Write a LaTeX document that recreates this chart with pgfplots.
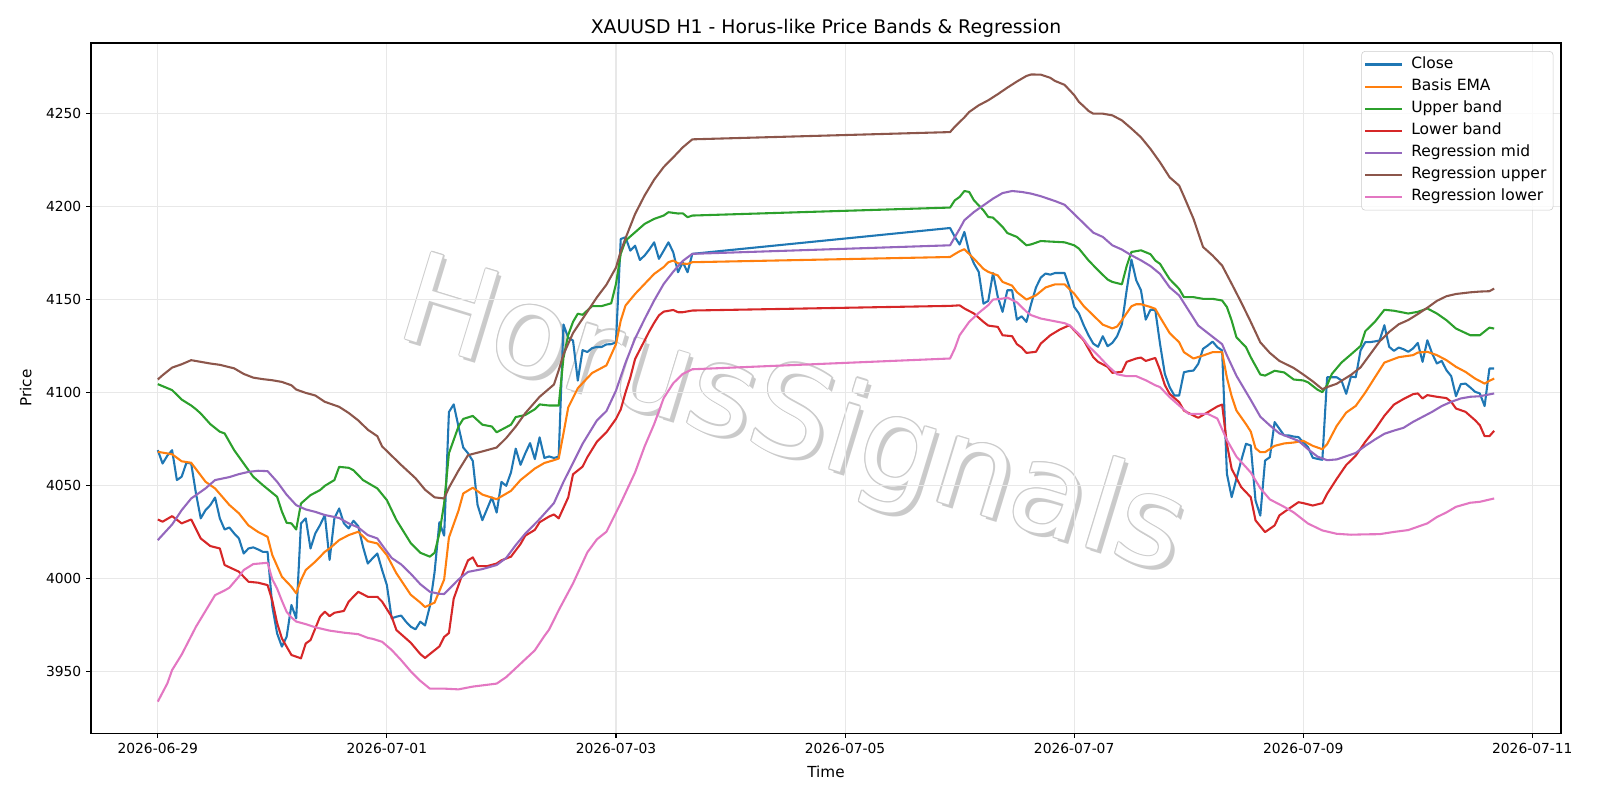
\documentclass[border=0pt]{standalone}
\usepackage{fontspec}
\setmainfont{DejaVu Sans}
\usepackage{pgfplots}
\pgfplotsset{compat=1.18}
\definecolor{c0}{HTML}{1F77B4}
\definecolor{c1}{HTML}{FF7F0E}
\definecolor{c2}{HTML}{2CA02C}
\definecolor{c3}{HTML}{D62728}
\definecolor{c4}{HTML}{9467BD}
\definecolor{c5}{HTML}{8C564B}
\definecolor{c6}{HTML}{E377C2}
\begin{document}
\begin{tikzpicture}
\useasboundingbox (-65.5bp,-48.2bp) rectangle (1086.5bp,527.8bp);
% watermark
\begin{scope}[shift={(505bp,224.5bp)}]
\tikzset{wm/.style={rotate=-17, font=\fontsize{90}{90}\selectfont, inner sep=0pt}}
\node[wm, text=gray!75, opacity=0.55] at (2.8bp,-2.8bp) {HorusSignals};
\foreach \dx/\dy in {0.9/0,-0.9/0,0/0.9,0/-0.9,0.65/0.65,-0.65/0.65,0.65/-0.65,-0.65/-0.65}
  {\node[wm, text=gray!40] at (\dx bp,\dy bp) {HorusSignals};}
\node[wm, text=white] at (0,0) {HorusSignals};
\end{scope}
\begin{axis}[
  at={(0,0)}, anchor=south west,
  scale only axis, width=1058.4bp, height=496.8bp,
  xmin=-14, xmax=294, ymin=3916.8, ymax=4288,
  xtick={0,48,96,144,192,240,288},
  xticklabels={2026-06-29,2026-07-01,2026-07-03,2026-07-05,2026-07-07,2026-07-09,2026-07-11},
  ytick={3950,4000,...,4250},
  yticklabel style={/pgf/number format/.cd, 1000 sep={}, fixed},
  /pgf/number format/assume math mode=true,
  ticklabel style={font=\fontsize{10}{12}\selectfont},
  tick align=outside, tick pos=left,
  major tick length=3.5bp,
  tick style={black, line width=0.8bp},
  axis line style={black, line width=0.8bp},
  grid=major, grid style={color=black!9, line width=0.8bp},
  title={XAUUSD H1 - Horus-like Price Bands \& Regression},
  every axis title/.style={at={(axis description cs:0.5,1.021)}, anchor=center, font=\fontsize{13.6}{16}\selectfont},
  xlabel={Time}, ylabel={Price},
  xlabel style={at={(axis description cs:0.5,-0.0557)}, anchor=center, font=\fontsize{11}{13}\selectfont},
  ylabel style={at={(axis description cs:-0.0444,0.5)}, anchor=center, rotate=0, font=\fontsize{11}{13}\selectfont},
  legend style={at={(0.9948,0.9883)}, anchor=north east, draw=black!20, fill=white, fill opacity=0.8, text opacity=1,
    rounded corners=2.5bp, font=\fontsize{11.2}{13}\selectfont, row sep=0pt, column sep=3.5bp,
    inner xsep=2bp, inner ysep=1.5bp,
    nodes={inner sep=2.8bp, text height=8bp, text depth=2.3bp}},
  legend cell align=left,
  legend image code/.code={\draw[#1, line width=1.5bp] (0bp,0bp) -- (26bp,0bp);},
  every axis plot/.append style={line width=1.5bp, line join=round, no markers},
]
\addplot[c0] coordinates {
(0,4069.0)(1,4061.8)(2,4066.0)(3,4069.0)(4,4052.9)(5,4054.7)(6,4062.2)(7,4061.8)(8,4045.7)(9,4032.3)
(10,4036.7)(11,4039.4)(12,4043.5)(13,4032.3)(14,4026.3)(15,4027.4)(16,4024.2)(17,4021.5)(18,4013.4)(19,4016.1)
(20,4016.7)(21,4015.6)(22,4014.3)(23,4014.3)(24,3984.8)(25,3970.4)(26,3963.3)(27,3968.6)(28,3985.7)(29,3978.5)
(30,4029.6)(31,4032.3)(32,4016.1)(33,4024.2)(34,4028.7)(35,4034.1)(36,4009.9)(37,4032.3)(38,4037.6)(39,4029.6)
(40,4026.9)(41,4031.0)(42,4028.1)(43,4017.0)(44,4008.0)(45,4010.8)(46,4013.4)(47,4004.5)(48,3996.4)(49,3978.5)
(50,3979.4)(51,3980.0)(52,3976.7)(53,3974.0)(54,3972.6)(55,3976.7)(56,3974.7)(57,3985.0)(58,4003.5)(59,4030.2)
(60,4023.0)(61,4089.5)(62,4093.6)(63,4081.7)(64,4070.4)(65,4067.3)(66,4063.2)(67,4039.5)(68,4031.3)(69,4037.4)
(70,4043.6)(71,4035.4)(72,4051.9)(73,4049.8)(74,4057.0)(75,4069.8)(76,4061.1)(77,4067.3)(78,4072.8)(79,4064.2)
(80,4075.9)(81,4064.8)(82,4065.6)(83,4064.8)(84,4065.5)(85,4136.6)(86,4129.4)(87,4128.0)(88,4106.4)(89,4122.8)
(90,4121.8)(91,4123.9)(92,4124.5)(93,4124.5)(94,4125.9)(95,4126.0)(96,4127.0)(97,4182.6)(98,4183.5)(99,4176.3)
(100,4179.0)(101,4171.3)(102,4173.7)(103,4177.0)(104,4180.8)(105,4171.9)(106,4176.3)(107,4180.8)(108,4175.4)(109,4164.7)
(110,4170.1)(111,4164.7)(112,4174.6)
(166,4188.5)(167,4183.7)(168,4179.6)(169,4186.4)(170,4175.6)(171,4169.4)(172,4164.9)(173,4147.8)(174,4149.3)(175,4164.3)
(176,4151.4)(177,4143.4)(178,4155.0)(179,4155.0)(180,4139.2)(181,4141.0)(182,4138.0)(183,4147.8)(184,4156.5)(185,4161.8)
(186,4164.0)(187,4163.4)(188,4164.3)(189,4164.3)(190,4164.3)(191,4156.8)(192,4146.1)(193,4142.5)(194,4136.2)(195,4130.8)
(196,4126.3)(197,4124.6)(198,4130.3)(199,4124.9)(200,4126.7)(201,4130.3)(202,4136.7)(203,4155.0)(204,4171.5)(205,4160.4)
(206,4155.0)(207,4139.2)(208,4144.6)(209,4144.3)(210,4126.0)(211,4110.0)(212,4102.9)(213,4098.4)(214,4098.4)(215,4110.9)
(216,4111.5)(217,4111.8)(218,4115.4)(219,4123.5)(220,4125.3)(221,4127.4)(222,4124.4)(223,4122.6)(224,4056.3)(225,4043.7)
(226,4053.6)(227,4063.4)(228,4072.4)(229,4071.5)(230,4041.9)(231,4033.8)(232,4063.4)(233,4065.2)(234,4084.1)(235,4080.5)
(236,4076.9)(237,4076.9)(238,4076.3)(239,4076.0)(240,4073.3)(241,4070.6)(242,4064.9)(243,4064.3)(244,4063.8)(245,4108.2)
(246,4108.2)(247,4108.2)(248,4106.5)(249,4099.3)(250,4108.6)(251,4108.2)(252,4122.6)(253,4127.1)(254,4127.1)(255,4127.5)
(256,4128.0)(257,4136.2)(258,4124.6)(259,4122.4)(260,4124.2)(261,4123.3)(262,4121.9)(263,4123.7)(264,4126.7)(265,4116.5)
(266,4128.1)(267,4121.0)(268,4115.6)(269,4117.0)(270,4112.0)(271,4108.8)(272,4098.0)(273,4104.5)(274,4104.8)(275,4102.7)
(276,4100.4)(277,4099.5)(278,4092.7)(279,4112.9)(280,4112.9)
};
\addlegendentry{Close}
\addplot[c1] coordinates {
(0,4068.1)(3,4066.8)(5,4063)(7,4062.2)(10,4052)(12,4048.4)(15,4039.5)(17,4035)(19,4028.5)(21,4025)(23,4022.4)
(24,4012.5)(26,4000.9)(28,3995.5)(29,3992)(30,3999.1)(31,4004.5)(33,4009)(35,4014.3)(36,4016.1)(38,4020.6)(40,4023.3)
(42,4025.1)(44,4020)(46,4018.8)(48,4012.5)(50,4002.7)(52,3995)(53,3991.2)(55,3987)(56,3984.6)(58,3987)(60,3999.4)
(61,4022)(63,4036.4)(64,4045.7)(66,4048.8)(68,4045.1)(71,4042.6)(74,4047.1)(76,4052.9)(79,4059.1)(81,4062.1)(83,4063.6)
(84,4064.5)(85,4078)(86,4092)(88,4102.3)(91,4110.5)(94,4114.6)(96,4126)(97,4138.7)(98,4146.8)(100,4153)(102,4158.4)
(104,4163.8)(106,4167.5)(107,4170.1)(108,4171)(109,4169.5)(111,4169.2)(112,4170.1)
(166,4172.9)(167,4174.5)(168,4176)(169,4177.1)(171,4172)(173,4166.5)(174,4164.9)(176,4163)(177,4159.5)(179,4157.5)
(180,4154)(182,4150)(184,4152.3)(186,4156.5)(188,4158.2)(190,4158.2)(192,4153.2)(194,4146.5)(196,4141.5)(198,4136.5)
(200,4134.5)(201,4135.5)(202,4138.9)(204,4146.4)(205,4147.5)(206,4147.5)(208,4146)(209,4145)(210,4140.5)(212,4132)
(214,4127)(215,4121.7)(217,4118.3)(219,4119.9)(221,4121.7)(223,4121.7)(224,4108)(225,4098)(226,4090.3)(228,4083)
(229,4079)(230,4070)(231,4067.9)(232,4067.9)(234,4071.3)(236,4072.6)(238,4073.1)(240,4074)(242,4071.3)(244,4069.5)
(245,4072.2)(247,4082)(249,4089.2)(251,4092.8)(253,4100)(255,4108.1)(257,4116.1)(260,4119)(263,4120.1)(264,4121.5)
(266,4121.9)(268,4120.1)(270,4117.4)(272,4113.8)(274,4111.1)(276,4107.5)(278,4104.8)(279,4106.3)(280,4107.5)
};
\addlegendentry{Basis EMA}
\addplot[c2] coordinates {
(0,4104.5)(3,4101.3)(5,4096.2)(7,4093)(8,4091)(9,4088.7)(11,4083)(13,4078.9)(14,4078)(16,4069)(18,4061.8)(20,4054.7)
(22,4050.2)(24,4046)(25,4043.9)(26,4036)(27,4029.9)(28,4029.6)(29,4026.3)(30,4040.3)(32,4044.8)(34,4047.5)(35,4049.8)
(37,4052.9)(38,4060)(40,4059.5)(41,4058.2)(43,4052.9)(46,4048.4)(48,4042.1)(50,4031.4)(53,4019)(55,4013.8)(57,4011.7)
(58,4013.8)(59,4024.1)(60,4040.5)(61,4067.3)(63,4081.7)(64,4085.8)(66,4087.4)(68,4082.7)(70,4081.7)(71,4078.6)
(74,4082.7)(75,4086.8)(77,4087.9)(79,4091)(80,4093.6)(82,4093)(84,4093)(85,4118.7)(86,4131)(87,4138)(88,4142.4)
(89,4141.8)(91,4146.5)(93,4146.5)(95,4148)(96,4158.4)(97,4174.6)(98,4181.7)(100,4186.2)(102,4190.7)(104,4193.4)
(106,4195.2)(107,4197)(109,4196.3)(110,4196.4)(111,4194.3)(112,4195.2)
(166,4199.5)(167,4203.4)(168,4205.2)(169,4208.4)(170,4207.9)(171,4203.4)(173,4198)(174,4194.4)(175,4194.1)(177,4189.1)
(178,4185.8)(180,4183.7)(182,4179.2)(183,4179.7)(185,4181.5)(187,4181.2)(190,4180.8)(192,4179.2)(193,4177.4)(195,4171.1)
(197,4165.8)(199,4160.8)(200,4159.5)(202,4158.2)(203,4168)(204,4175.6)(206,4176.5)(208,4174.4)(209,4171)(210,4169.2)
(211,4165)(212,4161)(213,4158.4)(214,4155.7)(215,4151.3)(217,4151.3)(219,4150.4)(221,4150.4)(223,4149.5)(224,4146)
(225,4138.7)(226,4129.7)(228,4124.4)(229,4119)(231,4109.7)(232,4109.1)(234,4111.7)(236,4110.8)(238,4107)(240,4106.5)
(241,4105.5)(243,4101.5)(244,4100.2)(245,4104)(246,4110)(248,4116.1)(250,4120.5)(252,4125)(253,4133)(255,4138)
(257,4144.5)(259,4144)(262,4142.5)(264,4143.4)(266,4145.2)(268,4142.5)(270,4138.9)(272,4134.4)(275,4130.8)(277,4130.8)
(279,4134.9)(280,4134.4)
};
\addlegendentry{Upper band}
\addplot[c3] coordinates {
(0,4031.7)(1,4030.5)(3,4033.5)(5,4029.6)(7,4031.7)(9,4021.5)(11,4017.4)(13,4016.1)(14,4007.2)(17,4003.6)(19,3998.2)
(21,3997.7)(23,3996.4)(24,3988)(25,3976)(26,3967.7)(28,3958.8)(30,3957)(31,3965)(32,3966.8)(34,3979.4)(35,3982.1)
(36,3979.7)(37,3981.5)(39,3982.5)(40,3987.5)(42,3992.8)(44,3990.1)(46,3990.1)(47,3987.5)(49,3979.4)(50,3972.2)
(53,3965.4)(55,3959.3)(56,3957.2)(57,3959.3)(59,3963.4)(60,3968.5)(61,3970.6)(62,3989.1)(64,4003.5)(65,4009.7)
(66,4011.3)(67,4006.6)(69,4006.6)(71,4008)(72,4009.7)(74,4011.7)(76,4018.5)(77,4023)(79,4026.1)(80,4030.2)(82,4033.3)
(83,4034.4)(84,4032.3)(86,4043.6)(87,4056)(89,4060.1)(90,4065.2)(92,4073.5)(94,4078.6)(96,4085.8)(97,4090.9)(98,4100)
(99,4108)(100,4118)(102,4128)(103,4133)(104,4137.5)(105,4141.5)(106,4143.5)(108,4144.4)(109,4143.2)(110,4143.2)(112,4144.1)
(166,4146.6)(168,4146.9)(169,4145.2)(171,4142.5)(173,4138)(174,4136)(176,4135.3)(177,4130.8)(179,4130.3)(180,4126)
(181,4124.2)(182,4121.3)(184,4121.9)(185,4126.3)(187,4130.8)(189,4133.9)(191,4136.2)(192,4133.5)(194,4128.1)(196,4119)
(197,4116.5)(199,4113.8)(200,4110.6)(202,4111.1)(203,4116.5)(205,4118.3)(206,4118.8)(207,4117)(209,4118.6)(210,4112)
(211,4104)(212,4099.3)(214,4094.8)(215,4090.3)(217,4087.6)(218,4086.4)(220,4089.4)(222,4092.5)(223,4093.5)(224,4072.4)
(225,4058.9)(227,4049.1)(229,4043.7)(230,4031.2)(232,4024.9)(234,4028.5)(235,4033.9)(237,4037.5)(239,4041)(240,4040.5)
(242,4039.2)(244,4040.5)(245,4045.5)(247,4053.5)(249,4061)(251,4066)(253,4073.5)(255,4080)(257,4087.5)(259,4093.5)
(261,4096.5)(263,4099.1)(264,4099.5)(265,4096.8)(266,4098.6)(268,4097.7)(270,4097)(271,4095)(272,4091.4)(274,4089.6)
(276,4085.1)(277,4082.4)(278,4076.5)(279,4076.5)(280,4079.4)
};
\addlegendentry{Lower band}
\addplot[c4] coordinates {
(0,4020.6)(3,4029)(5,4036.7)(7,4043)(10,4048.4)(12,4052.9)(15,4054.5)(17,4056.1)(19,4057.3)(21,4057.9)(23,4057.7)
(25,4052)(27,4045)(29,4039.4)(31,4037.1)(33,4035.8)(35,4034.1)(38,4032.5)(40,4029.6)(42,4027.4)(44,4023.3)(46,4021.5)
(47,4017.9)(49,4011)(51,4007.5)(53,4002.5)(55,3996.9)(57,3992.8)(59,3991.7)(60,3991.6)(61,3994.2)(63,3999.4)(65,4003.5)
(68,4005)(71,4007.2)(73,4011)(75,4017.9)(77,4024.1)(80,4031.9)(83,4040.5)(85,4051.9)(87,4062.1)(89,4072.4)(92,4085)
(94,4090)(96,4101)(98,4116)(100,4129)(102,4139.5)(104,4149.5)(106,4158.4)(108,4165)(110,4170.8)(112,4174.6)
(166,4179.2)(168,4188)(169,4192.7)(171,4197.1)(173,4200.7)(175,4204.3)(177,4207.3)(179,4208.4)(181,4207.9)(183,4207)
(185,4205.6)(188,4203)(190,4201)(192,4196)(193,4193.5)(196,4186)(198,4183.7)(200,4179.2)(202,4176.9)(204,4173.8)
(206,4171.1)(208,4168)(210,4163.8)(212,4156.6)(214,4152.2)(216,4144.1)(218,4136)(221,4130)(223,4126)(224,4120)
(226,4109)(229,4096)(231,4087)(233,4082.3)(235,4078)(237,4076)(239,4074)(241,4069.5)(243,4065.5)(245,4063.6)(247,4064)
(249,4065.7)(251,4067.5)(253,4071.3)(255,4074.7)(257,4077.8)(259,4079.5)(261,4081)(263,4084.2)(265,4086.9)(267,4089.6)
(269,4092.7)(271,4095)(273,4096.8)(275,4097.7)(277,4098)(280,4099.5)
};
\addlegendentry{Regression mid}
\addplot[c5] coordinates {
(0,4107)(1,4109.3)(3,4113.4)(5,4115.2)(7,4117.4)(9,4116.5)(11,4115.6)(13,4114.9)(16,4113)(18,4110)(20,4108)(22,4107.2)
(24,4106.6)(26,4105.7)(28,4103.9)(29,4101.6)(31,4099.8)(33,4098.4)(35,4095)(38,4092.3)(40,4089)(42,4085)(44,4080)
(46,4076.5)(47,4071)(49,4066)(51,4061)(54,4053.9)(56,4047.7)(58,4043.6)(60,4043)(61,4048.8)(63,4058)(65,4066.3)
(68,4068.3)(71,4070.4)(73,4075.5)(75,4081.7)(77,4088.9)(80,4097.7)(83,4104.3)(84,4112)(85,4120.5)(87,4132)(90,4143.5)
(92,4151.2)(94,4158)(96,4167.2)(97,4176)(98,4183)(100,4196)(102,4206)(104,4214.5)(106,4221.3)(108,4226.5)(110,4231.9)(112,4236.2)
(166,4240.1)(167,4243)(169,4248)(170,4250.9)(172,4254.5)(174,4257.2)(176,4260.5)(178,4264)(180,4267.3)(182,4270.3)
(183,4271.1)(185,4271)(187,4269.3)(188,4267.6)(190,4265.5)(192,4260)(193,4256.3)(194,4254)(195,4251.5)(196,4250)
(198,4250)(200,4249.1)(202,4246.4)(204,4242)(206,4237.3)(208,4231)(210,4223.8)(212,4215.8)(214,4211.3)(215,4205.5)
(217,4193.5)(219,4178.3)(221,4173.7)(223,4168.3)(225,4158.5)(227,4148.5)(229,4138)(231,4127)(233,4121.3)(235,4117)
(238,4113.2)(240,4109.7)(242,4106)(244,4101.8)(245,4102.9)(247,4104.7)(250,4109.5)(252,4113.5)(254,4120.5)(256,4127.5)
(258,4132.6)(260,4136.7)(262,4139)(264,4142.2)(266,4145.6)(268,4149.3)(270,4151.8)(272,4153)(275,4153.9)(277,4154.3)
(279,4154.5)(280,4155.9)
};
\addlegendentry{Regression upper}
\addplot[c6] coordinates {
(0,3933.7)(2,3943.5)(3,3950.7)(5,3959)(8,3974)(10,3982.5)(12,3991)(14,3993.5)(15,3995)(17,4001)(18,4004.5)(20,4007.7)
(23,4008.4)(24,3999.5)(25,3994.5)(26,3988)(27,3982)(28,3979)(29,3976.8)(31,3975.4)(33,3973.7)(36,3971.9)(39,3970.8)
(42,3970)(44,3968)(45,3967.5)(47,3965.9)(49,3961.5)(51,3956)(53,3950)(55,3944.9)(57,3940.7)(60,3940.7)(63,3940.3)
(66,3941.8)(71,3943.4)(73,3946.9)(76,3954.1)(79,3961.3)(81,3969)(82,3972.5)(84,3982.9)(87,3997.3)(90,4014)(92,4021)
(94,4025.1)(97,4040.5)(100,4057)(102,4071)(104,4083)(106,4097)(108,4105)(110,4110)(112,4112.5)
(166,4118.3)(167,4123.7)(168,4130.8)(170,4138)(172,4142.8)(174,4147)(175,4150)(177,4150.5)(178,4151.1)(180,4148.5)
(182,4143.5)(183,4141.6)(185,4139.8)(188,4138.3)(190,4137.3)(191,4136.2)(193,4131.5)(194,4128.5)(195,4125)(197,4120)
(199,4114.5)(201,4109.8)(203,4108.8)(205,4108.8)(207,4106.6)(209,4103.9)(210,4102.9)(212,4097.5)(214,4093)(216,4088.5)
(218,4088.5)(220,4088.5)(222,4086)(224,4074.5)(226,4065.5)(229,4057)(231,4048.5)(233,4042.5)(236,4038.5)(238,4035.5)
(241,4029.5)(244,4025.8)(247,4024)(250,4023.5)(253,4023.7)(256,4023.8)(259,4025)(262,4026)(264,4027.8)(266,4029.6)
(268,4033)(270,4035.5)(272,4038.5)(275,4040.7)(277,4041.2)(278,4041.8)(280,4043)
};
\addlegendentry{Regression lower}
\end{axis}
\end{tikzpicture}
\end{document}
